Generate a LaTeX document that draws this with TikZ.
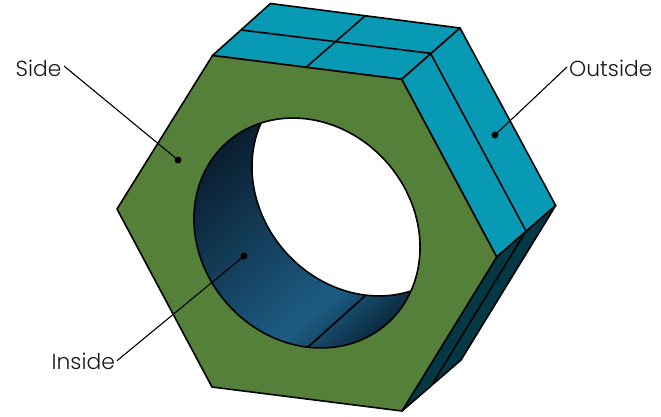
\documentclass[tikz,border=0pt]{standalone}
\usepackage{fontspec}
\setmainfont{Poppins Light}
\definecolor{faceGreen}{RGB}{85,128,58}
\definecolor{faceCyan}{RGB}{8,153,180}
\definecolor{faceDark}{RGB}{4,56,68}
\definecolor{holeDark}{RGB}{10,30,48}
\definecolor{holeMid}{RGB}{28,90,128}
\definecolor{holeEnd}{RGB}{12,44,66}
\tikzset{
  edgeline/.style={draw=black,line width=1.6pt,line join=round},
  leader/.style={draw=black,line width=1.1pt},
  tag/.style={font=\fontsize{21.8}{24}\selectfont,inner sep=0pt,text=black!90},
  pin/.style={circle,fill=black,inner sep=0pt,minimum size=7pt}
}
\newcommand{\holeloop}[2]{plot[domain=0:360,samples=160,smooth] ({#1+0.595*190*cos(\x)},{#2+0.595*(24*cos(\x)-191.7*sin(\x))}) -- cycle}
\begin{document}
\begin{tikzpicture}[x=1pt,y=-1pt]
\useasboundingbox (0,0) rectangle (661,416);
% corners
\coordinate (fa) at (212.5,55.5);
\coordinate (fb) at (401.7,79.3);
\coordinate (fc) at (496.7,257);
\coordinate (fd) at (402,411);
\coordinate (fe) at (212,387);
\coordinate (ff) at (117,209);
\coordinate (ba) at (270.5,3.5);
\coordinate (bb) at (460,28);
\coordinate (bc) at (555.7,205.5);
\coordinate (bd) at (461,360);
\coordinate (ma) at (241,30);
\coordinate (mb) at (430.5,53.3);
\coordinate (mc) at (526,231);
\coordinate (md) at (433,383);
\coordinate (ta) at (306.7,66.7);
\coordinate (tb) at (365,16);
\coordinate (sa) at (307.7,347.3);
\coordinate (sb) at (365,296);
\coordinate (sideEnd) at (64,66);
\coordinate (insideEnd) at (117,360.7);
\coordinate (outsideEnd) at (567,67);
% faces
\filldraw[edgeline,fill=faceCyan] (fa) -- (ba) -- (bb) -- (fb) -- cycle;
\filldraw[edgeline,fill=faceCyan] (fb) -- (bb) -- (bc) -- (fc) -- cycle;
\filldraw[edgeline,fill=faceDark] (fc) -- (bc) -- (bd) -- (fd) -- cycle;
\draw[edgeline] (ma) -- (mb) -- (mc) -- (md);
\draw[edgeline] (ta) -- (tb);
\filldraw[edgeline,fill=faceGreen] (fa) -- (fb) -- (fc) -- (fd) -- (fe) -- (ff) -- cycle;
% hole
\begin{scope}
\clip \holeloop{307}{233};
\foreach \s in {255,258,...,510}{
  \pgfmathsetmacro{\pa}{min(100,max(0,(\s-258)/(432-258)*100))}
  \pgfmathsetmacro{\pb}{min(100,max(0,(\s-445)/(497-445)*100))}
  \pgfmathtruncatemacro{\isend}{\s>445?1:0}
  \ifnum\isend=1
    \colorlet{stripcol}{holeEnd!\pb!holeMid}
  \else
    \colorlet{stripcol}{holeMid!\pa!holeDark}
  \fi
  \fill[stripcol]
    ({\s*0.667+300*0.745},{\s*0.744-300*0.667}) --
    ({\s*0.667-300*0.745},{\s*0.744+300*0.667}) --
    ({540*0.667-300*0.745},{540*0.744+300*0.667}) --
    ({540*0.667+300*0.745},{540*0.744-300*0.667}) -- cycle;
}
\filldraw[edgeline,fill=white] \holeloop{365}{181};
\draw[edgeline] (sa) -- (sb);
\end{scope}
\draw[edgeline] \holeloop{307}{233};
% labels
\node[tag,anchor=base west] (sideTag) at (15.5,76.5) {Side};
\node[tag,anchor=base west] (insideTag) at (51.5,369) {Inside};
\node[tag,anchor=base west] (outsideTag) at (569,76.5) {Outside};
\node[pin] (sideDot) at (178,160) {};
\node[pin] (insideDot) at (244,256) {};
\node[pin] (outsideDot) at (495,135) {};
\draw[leader] (sideEnd) -- (sideDot.center);
\draw[leader] (insideEnd) -- (insideDot.center);
\draw[leader] (outsideEnd) -- (outsideDot.center);
\end{tikzpicture}
\end{document}
